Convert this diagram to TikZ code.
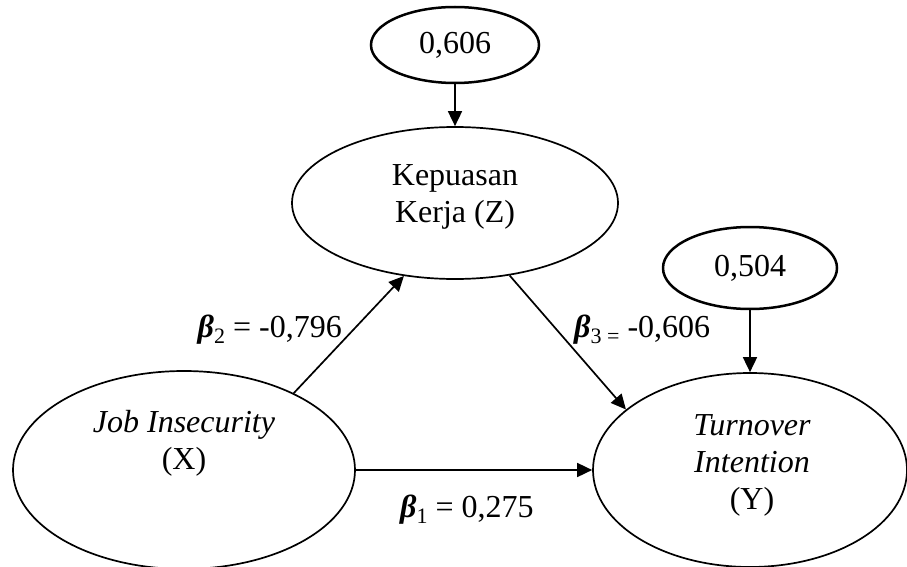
\documentclass[tikz,border=0pt]{standalone}
\usepackage{fontspec}
\setmainfont{Liberation Serif}
\usetikzlibrary{shapes.geometric,arrows.meta}
\newcommand\bsub[1]{\raisebox{-6pt}{\fontsize{22}{22}\selectfont #1}}
\newcommand\bet{{\bfseries\itshape β}}
\begin{document}
\begin{tikzpicture}[x=1pt,y=-1pt,
  lat/.style={ellipse,draw,line width=1.7pt,inner sep=0pt},
  err/.style={ellipse,draw,line width=2.5pt,inner sep=0pt,font=\fontsize{32}{37}\selectfont},
  txt/.style={align=center,font=\fontsize{32}{37}\selectfont,inner sep=0pt},
  arr/.style={line width=1.7pt,-{Triangle[length=15pt,width=14pt]}},
  lbl/.style={font=\fontsize{32}{37}\selectfont,inner sep=0pt}]
\useasboundingbox (0,0) rectangle (907,567);
% ellipses
\node[err,minimum width=168pt,minimum height=76pt] (E1) at (455,45) {0,606};
\node[err,minimum width=174pt,minimum height=82pt] (E2) at (750,268) {0,504};
\node[lat,minimum width=326pt,minimum height=152pt] (Z) at (455,203) {};
\node[lat,minimum width=342pt,minimum height=198pt] (X) at (184,470) {};
\node[lat,minimum width=314pt,minimum height=194pt] (Y) at (750,470) {};
% texts
\node[txt] (Zt) at (455,197) {Kepuasan\\Kerja (Z)};
\node[txt] (Xt) at (184,443) {\textit{Job Insecurity}\\(X)};
\node[txt] (Yt) at (752,465) {\textit{Turnover}\\\textit{Intention}\\(Y)};
% arrows
\draw[arr] (E1) -- (Z);
\draw[arr] (E2) -- (Y);
\draw[arr] (X.35) -- (Z.235);
\draw[arr] (Z.-53) -- (Y.154);
\draw[arr] (X.east) -- (Y.west);
% labels
\node[lbl,anchor=base east] (L2) at (342,337) {\bet\bsub{2} = -0,796};
\node[lbl,anchor=base west] (L3) at (574,337) {\bet\bsub{3 =} -0,606};
\node[lbl,anchor=base west] (L1) at (400,517) {\bet\bsub{1} = 0,275};
\end{tikzpicture}
\end{document}
